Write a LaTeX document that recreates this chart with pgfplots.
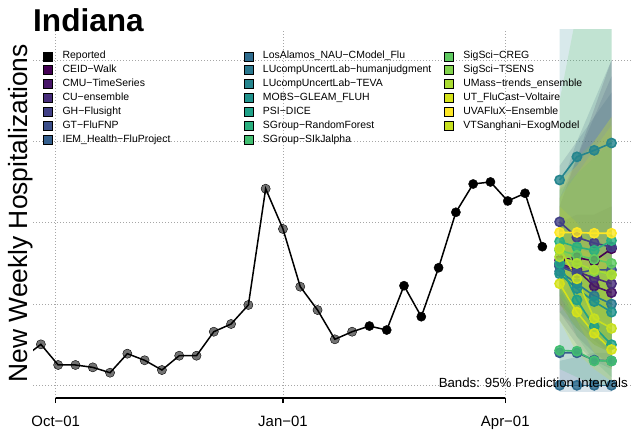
\documentclass[border=0pt]{standalone}
\usepackage{fontspec}
\setmainfont{Liberation Sans}
\usepackage{pgfplots}
\pgfplotsset{compat=1.18}

% viridis-like model colours
\definecolor{m01}{HTML}{440154}
\definecolor{m02}{HTML}{481769}
\definecolor{m03}{HTML}{472D7B}
\definecolor{m04}{HTML}{424086}
\definecolor{m05}{HTML}{3C4F8A}
\definecolor{m06}{HTML}{355F8D}
\definecolor{m07}{HTML}{2F6C8E}
\definecolor{m08}{HTML}{2A788E}
\definecolor{m09}{HTML}{25858E}
\definecolor{m10}{HTML}{20928C}
\definecolor{m11}{HTML}{1FA188}
\definecolor{m12}{HTML}{2BB07F}
\definecolor{m13}{HTML}{42BE71}
\definecolor{m14}{HTML}{5FCA61}
\definecolor{m15}{HTML}{82D34D}
\definecolor{m16}{HTML}{AADC32}
\definecolor{m17}{HTML}{D5E21A}
\definecolor{m18}{HTML}{FDE725}
\definecolor{m19}{HTML}{C7E020}

\newcommand{\fcline}[2]{\addplot[#1, line width=1.6bp, mark=*, mark size=4.6bp,
  mark options={draw=none, fill=#1, fill opacity=0.8}, forget plot] coordinates {#2};}
\newcommand{\fcband}[2]{\addplot[draw=none, fill=#1, fill opacity=0.18, forget plot]
  coordinates {#2} -- cycle;}
\newcommand{\wbox}[1]{\makebox[181bp][l]{#1}}

\begin{document}
\begin{tikzpicture}
\useasboundingbox (-33bp,-35bp) rectangle (599bp,398bp);
\begin{axis}[
  scale only axis, width=599bp, height=368bp,
  xmin=-9.19, xmax=233.3, ymin=-15.6, ymax=437,
  axis x line*=bottom, axis y line*=left,
  x axis line style={draw=none}, y axis line style={draw=none},
  xtick={0,92,182}, xticklabels={Oct−01,Jan−01,Apr−01},
  ytick={0,100,200,300,400}, yticklabels={},
  major tick length=5bp, tick align=outside,
  x tick style={black, line width=1.3bp}, y tick style={draw=none},
  grid=major, grid style={black!35, line width=0.7bp, dash pattern=on 0.7bp off 2.3bp},
  xticklabel style={font=\fontsize{15}{18}\selectfont, anchor=base, yshift=-23.5bp},
  legend columns=7, transpose legend, legend cell align=left,
  legend style={at={(axis description cs:0.0167,0.9435)}, anchor=north west,
    draw=none, fill=none, inner sep=0pt, row sep=3.45bp,
    font=\fontsize{10.5}{12}\selectfont,
    nodes={inner sep=0pt, text height=8bp, text depth=2.5bp}},
  legend image code/.code={\fill[#1] (0bp,-4.5bp) rectangle (9bp,4.5bp); \path (19bp,0bp);},
]
% ---- prediction bands (95%) ----
\fcband{m01}{(204,100)(211,70)(218,50)(225,40)(225,400)(218,340)(211,280)(204,220)}
\fcband{m02}{(204,100)(211,80)(218,55)(225,40)(225,220)(218,210)(211,210)(204,200)}
\fcband{m03}{(204,90)(211,60)(218,40)(225,25)(225,380)(218,330)(211,280)(204,230)}
\fcband{m04}{(204,140)(211,110)(218,90)(225,70)(225,360)(218,330)(211,300)(204,270)}
\fcband{m05}{(204,80)(211,50)(218,30)(225,20)(225,400)(218,350)(211,300)(204,240)}
\fcband{m06}{(204,5)(211,0)(218,0)(225,0)(225,150)(218,140)(211,130)(204,110)}
\fcband{m07}{(204,-8)(211,-8)(218,-8)(225,-8)(225,40)(218,40)(211,35)(204,30)}
\fcband{m08}{(204,90)(211,70)(218,50)(225,40)(225,170)(218,180)(211,190)(204,190)}
\fcband{m09}{(204,170)(211,180)(218,180)(225,180)(225,700)(218,650)(211,600)(204,520)}
\fcband{m10}{(204,110)(211,90)(218,70)(225,55)(225,130)(218,140)(211,150)(204,165)}
\fcband{m11}{(204,110)(211,60)(218,30)(225,10)(225,110)(218,130)(211,160)(204,190)}
\fcband{m12}{(204,120)(211,100)(218,85)(225,80)(225,300)(218,280)(211,260)(204,240)}
\fcband{m13}{(204,20)(211,10)(218,0)(225,0)(225,150)(218,130)(211,110)(204,90)}
\fcband{m14}{(204,100)(211,80)(218,60)(225,40)(225,560)(218,520)(211,460)(204,350)}
\fcband{m15}{(204,110)(211,80)(218,60)(225,50)(225,330)(218,300)(211,280)(204,250)}
\fcband{m16}{(204,100)(211,70)(218,50)(225,40)(225,320)(218,290)(211,260)(204,230)}
\fcband{m17}{(204,80)(211,40)(218,20)(225,5)(225,150)(218,160)(211,170)(204,180)}
\fcband{m18}{(204,120)(211,100)(218,80)(225,70)(225,330)(218,300)(211,270)(204,250)}
\fcband{m19}{(204,120)(211,80)(218,40)(225,20)(225,150)(218,170)(211,200)(204,220)}

% ---- reported ----
\addplot[black, line width=1.5bp, forget plot] coordinates {
(-13,34.1) (-6,50.4) (1,25.0) (8,25.0) (15,22.1) (22,15.5) (29,38.9) (36,30.8)
(43,18.8) (50,36.4) (57,36.4) (64,65.9) (71,75.4) (78,98.8) (85,241.8) (92,192.3)
(99,121.3) (106,92.6) (113,56.6) (120,65.9) (127,72.9) (134,68.0) (141,122.5)
(148,84.4) (155,144.6) (162,212.8) (169,247.6) (176,250.1) (183,226.7) (190,236.2)
(197,170.5)};
\addplot[only marks, mark=*, mark size=4.6bp,
  mark options={draw=none, fill=black, fill opacity=0.55}, forget plot] coordinates {
(-13,34.1) (-6,50.4) (1,25.0) (8,25.0) (15,22.1) (22,15.5) (29,38.9) (36,30.8)
(43,18.8) (50,36.4) (57,36.4) (64,65.9) (71,75.4) (78,98.8) (85,241.8) (92,192.3)
(99,121.3) (106,92.6) (113,56.6) (120,65.9)};
\addplot[only marks, mark=*, mark size=4.6bp,
  mark options={draw=none, fill=black}, forget plot] coordinates {
(127,72.9) (134,68.0) (141,122.5) (148,84.4) (155,144.6) (162,212.8) (169,247.6)
(176,250.1) (183,226.7) (190,236.2) (197,170.5)};

% ---- model medians ----
\fcline{m01}{(204,154)(211,157)(218,153)(225,168)}
\fcline{m02}{(204,150)(211,142)(218,122)(225,114)}
\fcline{m03}{(204,148)(211,140)(218,132)(225,125)}
\fcline{m04}{(204,201)(211,182)(218,175)(225,170)}
\fcline{m05}{(204,146)(211,138)(218,142)(225,142)}
\fcline{m06}{(204,40)(211,40)(218,31)(225,30)}
\fcline{m07}{(204,0)(211,0)(218,0)(225,0)}
\fcline{m08}{(204,140)(211,125)(218,110)(225,100)}
\fcline{m09}{(204,252.5)(211,281)(218,289)(225,298)}
\fcline{m10}{(204,137)(211,119)(218,103)(225,90)}
\fcline{m11}{(204,150)(211,105)(218,72)(225,50)}
\fcline{m12}{(204,177)(211,170)(218,166)(225,178)}
\fcline{m13}{(204,43)(211,42)(218,30)(225,30)}
\fcline{m14}{(204,166)(211,160)(218,155)(225,150)}
\fcline{m15}{(204,168)(211,150)(218,140)(225,136)}
\fcline{m16}{(204,158)(211,150)(218,142)(225,136)}
\fcline{m17}{(204,125)(211,90)(218,64)(225,44)}
\fcline{m18}{(204,188)(211,188)(218,187)(225,187)}
\fcline{m19}{(204,168)(211,131)(218,82)(225,70)}

% ---- legend ----
\addlegendimage{fill=black}\addlegendentry{\wbox{Reported}}
\addlegendimage{fill=m01}\addlegendentry{\wbox{CEID−Walk}}
\addlegendimage{fill=m02}\addlegendentry{\wbox{CMU−TimeSeries}}
\addlegendimage{fill=m03}\addlegendentry{\wbox{CU−ensemble}}
\addlegendimage{fill=m04}\addlegendentry{\wbox{GH−Flusight}}
\addlegendimage{fill=m05}\addlegendentry{\wbox{GT−FluFNP}}
\addlegendimage{fill=m06}\addlegendentry{\wbox{IEM\_Health−FluProject}}
\addlegendimage{fill=m07}\addlegendentry{\wbox{LosAlamos\_NAU−CModel\_Flu}}
\addlegendimage{fill=m08}\addlegendentry{\wbox{LUcompUncertLab−humanjudgment}}
\addlegendimage{fill=m09}\addlegendentry{\wbox{LUcompUncertLab−TEVA}}
\addlegendimage{fill=m10}\addlegendentry{\wbox{MOBS−GLEAM\_FLUH}}
\addlegendimage{fill=m11}\addlegendentry{\wbox{PSI−DICE}}
\addlegendimage{fill=m12}\addlegendentry{\wbox{SGroup−RandomForest}}
\addlegendimage{fill=m13}\addlegendentry{\wbox{SGroup−SIkJalpha}}
\addlegendimage{fill=m14}\addlegendentry{SigSci−CREG}
\addlegendimage{fill=m15}\addlegendentry{SigSci−TSENS}
\addlegendimage{fill=m16}\addlegendentry{UMass−trends\_ensemble}
\addlegendimage{fill=m17}\addlegendentry{UT\_FluCast−Voltaire}
\addlegendimage{fill=m18}\addlegendentry{UVAFluX−Ensemble}
\addlegendimage{fill=m19}\addlegendentry{VTSanghani−ExogModel}
\end{axis}
\draw[line width=1.5bp] (22.7bp,0) -- (472.3bp,0);
\node[anchor=base west, inner sep=0pt, font=\bfseries\fontsize{31.7}{36}\selectfont]
  at (0bp,366.3bp) {Indiana};
\node[rotate=90, anchor=base, inner sep=0pt, font=\fontsize{26.5}{30}\selectfont]
  at (-5.7bp,184.7bp) {New Weekly Hospitalizations};
\node[anchor=base east, inner sep=0pt, font=\fontsize{13.3}{15}\selectfont]
  at (595bp,10.3bp) {Bands: 95\% Prediction Intervals};
\end{tikzpicture}
\end{document}
